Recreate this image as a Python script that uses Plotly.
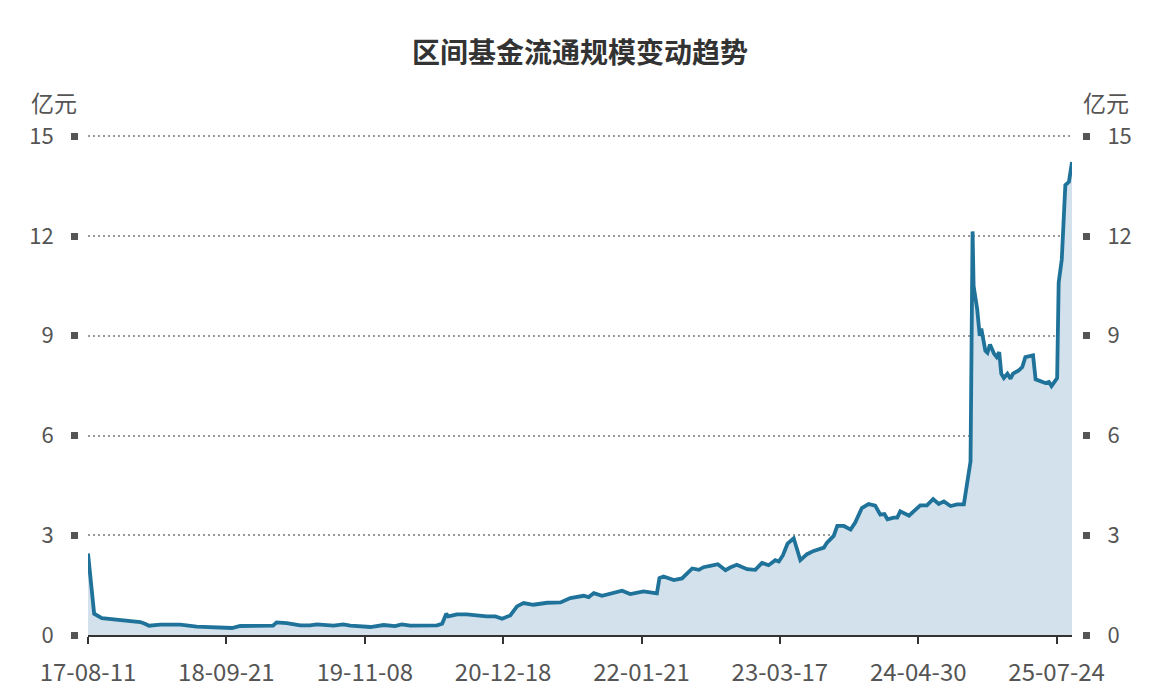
import plotly.graph_objects as go

# Trading-day index (position along the category axis) and fund circulation size (亿元)
day_index = [0, 12, 27, 56, 82, 102, 111, 119, 141, 180, 212, 244, 281, 297, 336, 361, 368, 388,
             414, 433, 447, 479, 498, 512, 551, 570, 577, 599, 612, 629, 655, 681, 691, 699, 703,
             720, 739, 759, 778, 795, 808, 824, 837, 850, 869, 896, 922, 941, 967, 977, 987, 1003,
             1019, 1042, 1058, 1084, 1110, 1115, 1123, 1136, 1143, 1159, 1179, 1192, 1201, 1214,
             1229, 1244, 1253, 1266, 1286, 1302, 1315, 1328, 1341, 1348, 1356, 1365, 1377, 1390,
             1403, 1416, 1436, 1442, 1455, 1462, 1475, 1488, 1497, 1510, 1523, 1536, 1546, 1554,
             1560, 1572, 1579, 1585, 1602, 1611, 1624, 1637, 1649, 1660, 1670, 1683, 1696, 1709,
             1715, 1722, 1726, 1728, 1735, 1740, 1743, 1747, 1751, 1755, 1760, 1768, 1773, 1778,
             1782, 1787, 1794, 1800, 1805, 1816, 1823, 1829, 1836, 1844, 1849, 1859, 1868, 1875,
             1880, 1891, 1894, 1900, 1907, 1914, 1920]
scale_yi = [2.45, 0.64, 0.51, 0.46, 0.42, 0.39, 0.34, 0.28, 0.31, 0.31, 0.25, 0.24, 0.21, 0.27,
            0.27, 0.28, 0.38, 0.36, 0.29, 0.29, 0.32, 0.28, 0.32, 0.28, 0.24, 0.29, 0.30, 0.27,
            0.32, 0.28, 0.29, 0.29, 0.34, 0.64, 0.56, 0.62, 0.62, 0.58, 0.56, 0.56, 0.49, 0.59,
            0.86, 0.96, 0.91, 0.97, 0.98, 1.11, 1.18, 1.14, 1.26, 1.18, 1.25, 1.33, 1.23, 1.31,
            1.25, 1.71, 1.76, 1.68, 1.65, 1.70, 2.00, 1.96, 2.04, 2.08, 2.13, 1.95, 2.03, 2.11,
            1.98, 1.96, 2.17, 2.10, 2.25, 2.21, 2.40, 2.75, 2.91, 2.25, 2.43, 2.53, 2.63, 2.78,
            2.98, 3.28, 3.28, 3.17, 3.38, 3.82, 3.94, 3.89, 3.62, 3.64, 3.48, 3.53, 3.53, 3.72,
            3.59, 3.72, 3.90, 3.90, 4.09, 3.94, 4.02, 3.88, 3.93, 3.93, 4.52, 5.22, 12.14, 10.50,
            9.80, 9.00, 9.22, 8.90, 8.55, 8.49, 8.74, 8.46, 8.36, 8.51, 7.86, 7.73, 7.86, 7.71,
            7.86, 7.96, 8.06, 8.36, 8.39, 8.41, 7.69, 7.63, 7.58, 7.61, 7.49, 7.73, 10.60, 11.29,
            13.53, 13.63, 14.23]

tick_index = [0, 270, 540, 810, 1080, 1350, 1620, 1890]
tick_labels = ["17-08-11", "18-09-21", "19-11-08", "20-12-18", "22-01-21", "23-03-17",
               "24-04-30", "25-07-24"]
y_ticks = [0, 3, 6, 9, 12, 15]

title_text = "区间基金流通规模变动趋势"
unit_text = "亿元"

FONT = "Noto Sans CJK SC, Noto Sans, sans-serif"
LINE_COLOR = "#1f7299"
FILL_COLOR = "#d2e1eb"
TXT = "#555555"
Y_RANGE = [0, 15.1]

fig = go.Figure()
fig.add_trace(go.Scatter(
    x=day_index, y=scale_yi, mode="lines",
    line=dict(color=LINE_COLOR, width=3.8),
    fill="tozeroy", fillcolor=FILL_COLOR,
    hoverinfo="skip", showlegend=False,
))
# invisible trace for the right axis
fig.add_trace(go.Scatter(x=[day_index[0]], y=[0], yaxis="y2", mode="lines",
                         line=dict(width=0), hoverinfo="skip", showlegend=False))

fig.update_layout(
    width=1166, height=700,
    margin=dict(l=88, r=94, t=133, b=62),
    paper_bgcolor="white", plot_bgcolor="white",
    font=dict(family=FONT, color=TXT),
    title=dict(text=f"<b>{title_text}</b>", x=0.5, xref="paper", xanchor="center",
               y=1 - 53 / 700, yref="container", yanchor="middle",
               font=dict(size=28, color="#333333", family=FONT)),
    xaxis=dict(
        range=[day_index[0], day_index[-1]],
        tickmode="array", tickvals=tick_index, ticktext=tick_labels,
        showline=True, linecolor="#333333", linewidth=2,
        ticks="outside", ticklen=7, tickwidth=2, tickcolor="#333333",
        ticklabelstandoff=8,
        showgrid=False, zeroline=False,
        tickfont=dict(size=24, color=TXT, family=FONT),
        fixedrange=True,
    ),
    yaxis=dict(
        range=Y_RANGE, tickmode="array", tickvals=y_ticks,
        anchor="free", position=0, shift=-10,
        showline=False, zeroline=False,
        ticks="outside", ticklen=7, tickwidth=7, tickcolor="#555555",
        ticklabelstandoff=13,
        showgrid=True, gridcolor="#9a9a9a", gridwidth=2, griddash="2px,3px",
        tickfont=dict(size=22, color=TXT, family=FONT),
        fixedrange=True,
    ),
    yaxis2=dict(
        range=Y_RANGE, tickmode="array", tickvals=y_ticks,
        overlaying="y", side="right",
        anchor="free", position=1, shift=10,
        showline=False, zeroline=False, showgrid=False,
        ticks="outside", ticklen=7, tickwidth=7, tickcolor="#555555",
        ticklabelstandoff=13,
        tickfont=dict(size=22, color=TXT, family=FONT),
        fixedrange=True,
    ),
    annotations=[
        dict(text=unit_text, xref="paper", yref="paper", x=0, y=1, xanchor="right",
             yanchor="middle", xshift=-9, yshift=31, showarrow=False,
             font=dict(size=23, color=TXT, family=FONT)),
        dict(text=unit_text, xref="paper", yref="paper", x=1, y=1, xanchor="left",
             yanchor="middle", xshift=9, yshift=31, showarrow=False,
             font=dict(size=23, color=TXT, family=FONT)),
    ],
)

fig.write_html("out.html", config={"displayModeBar": False})

# remove the browser's default page margin so the figure sits at the window's corner
with open("out.html", encoding="utf-8") as f:
    html = f.read()
html = html.replace("<head>", "<head><style>body{margin:0;}</style>", 1)
with open("out.html", "w", encoding="utf-8") as f:
    f.write(html)
